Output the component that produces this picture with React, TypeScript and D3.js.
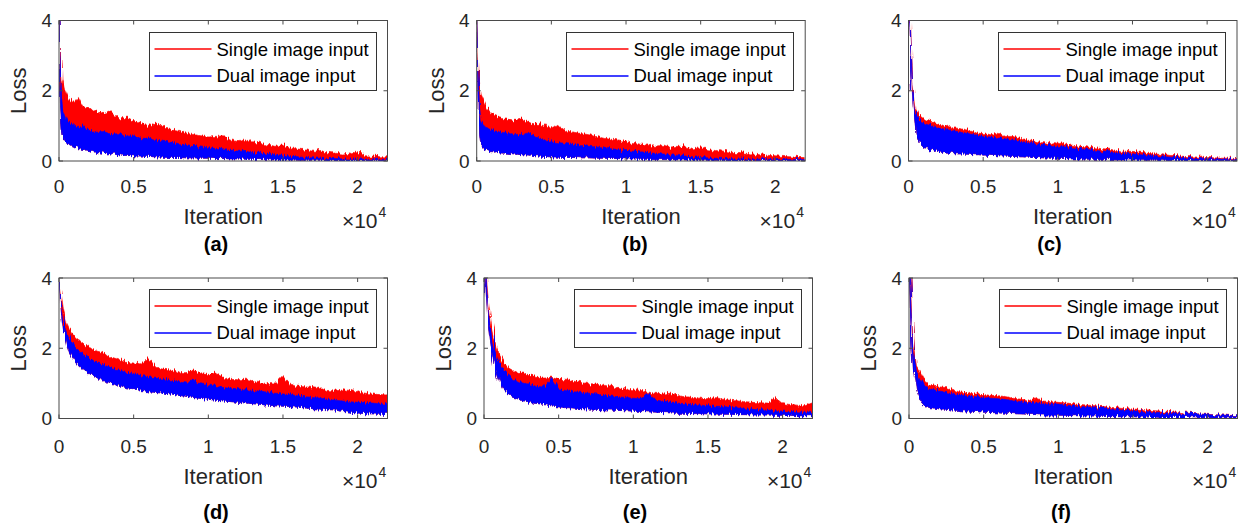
import React from 'react';
import * as d3 from 'd3';

const ITER = [0, 100, 200, 300, 500, 700, 1000, 1300, 1600,
  2000, 2500, 3000, 3500, 4000, 4500, 5000, 5500, 6000, 6500, 7000, 7500, 8000, 8500, 9000, 9500,
  10000, 10500, 11000, 11500, 12000, 12500, 13000, 13500, 14000, 14500, 15000, 15500, 16000, 16500,
  17000, 17500, 18000, 18500, 19000, 19500, 20000, 20500, 21000, 21500, 22000];

const X_TICKS = [0, 5000, 10000, 15000, 20000];
const Y_TICKS = [0, 2, 4];
const LEGEND = ['Single image input', 'Dual image input'];

// (a)
const A_RED_HI = [4.0, 3.2, 2.3, 2.1, 1.9, 1.75, 1.65, 1.8, 1.55,
  1.5, 1.42, 1.35, 1.4, 1.2, 1.25, 1.15, 1.1, 1.0, 1.05, 1.0, 0.88, 0.85, 0.8, 0.75, 0.72, 0.68, 0.7, 0.72, 0.6,
  0.55, 0.6, 0.55, 0.5, 0.45, 0.42, 0.46, 0.38, 0.34, 0.32, 0.28, 0.3, 0.25, 0.22, 0.2, 0.22, 0.27, 0.15, 0.14, 0.12, 0.12];
const A_BLUE_HI = [4.0, 2.6, 1.7, 1.4, 1.2, 1.1, 1.0, 0.95, 1.0,
  0.88, 0.82, 0.84, 0.76, 0.78, 0.7, 0.72, 0.64, 0.66, 0.6, 0.56, 0.54, 0.5, 0.46, 0.44, 0.4, 0.38, 0.36, 0.32, 0.31,
  0.28, 0.27, 0.24, 0.22, 0.2, 0.18, 0.17, 0.14, 0.12, 0.1, 0.09, 0.08, 0.07, 0.07, 0.06, 0.06, 0.06, 0.05, 0.05, 0.05, 0.05];
const A_BLUE_LO = [4.0, 1.6, 0.9, 0.6, 0.5, 0.45, 0.4, 0.35, 0.33,
  0.3, 0.25, 0.22, 0.2, 0.18, 0.16, 0.15, 0.14, 0.13, 0.12, 0.11, 0.1, 0.1, 0.09, 0.09, 0.08, 0.08, 0.07, 0.07, 0.06,
  0.06, 0.05, 0.05, 0.04, 0.04, 0.03, 0.03, 0.03, 0.02, 0.02, 0.02, 0.02, 0.01, 0.01, 0.01, 0.01, 0.01, 0.01, 0.01, 0.01, 0.01];

// (b)
const B_RED_HI = [4.0, 3.0, 2.2, 1.9, 1.7, 1.5, 1.35, 1.3, 1.25,
  1.2, 1.15, 1.2, 1.1, 1.05, 1.0, 0.95, 1.0, 0.85, 0.82, 0.78, 0.75, 0.7, 0.65, 0.62, 0.6, 0.55, 0.5, 0.48, 0.45,
  0.42, 0.45, 0.4, 0.42, 0.4, 0.35, 0.38, 0.32, 0.3, 0.28, 0.25, 0.24, 0.22, 0.2, 0.18, 0.16, 0.15, 0.13, 0.12, 0.1, 0.1];
const B_BLUE_HI = [4.0, 2.4, 1.5, 1.15, 1.0, 0.95, 0.9, 0.85, 0.82,
  0.8, 0.76, 0.75, 0.8, 0.68, 0.62, 0.55, 0.52, 0.5, 0.47, 0.44, 0.42, 0.4, 0.37, 0.35, 0.32, 0.3, 0.28, 0.26, 0.24,
  0.22, 0.2, 0.18, 0.16, 0.14, 0.12, 0.1, 0.09, 0.08, 0.07, 0.07, 0.06, 0.06, 0.05, 0.05, 0.05, 0.04, 0.04, 0.04, 0.04, 0.04];
const B_BLUE_LO = [4.0, 1.4, 0.7, 0.45, 0.35, 0.3, 0.27, 0.25, 0.23,
  0.22, 0.2, 0.18, 0.17, 0.15, 0.13, 0.12, 0.11, 0.1, 0.1, 0.09, 0.09, 0.08, 0.08, 0.07, 0.07, 0.06, 0.06, 0.05, 0.05,
  0.04, 0.04, 0.04, 0.03, 0.03, 0.03, 0.02, 0.02, 0.02, 0.02, 0.01, 0.01, 0.01, 0.01, 0.01, 0.01, 0.01, 0.01, 0.01, 0.01, 0.01];

// (c)
const C_RED_HI = [5.0, 4.3, 3.2, 2.2, 1.5, 1.3, 1.2, 1.15, 1.1,
  1.05, 1.0, 0.95, 0.92, 0.88, 0.8, 0.78, 0.75, 0.8, 0.7, 0.7, 0.65, 0.6, 0.56, 0.52, 0.5, 0.55, 0.48, 0.45, 0.42,
  0.4, 0.38, 0.35, 0.33, 0.3, 0.28, 0.27, 0.25, 0.22, 0.2, 0.18, 0.16, 0.15, 0.13, 0.12, 0.11, 0.1, 0.09, 0.08, 0.08, 0.07];
const C_BLUE_HI = [5.0, 4.1, 3.0, 2.0, 1.35, 1.15, 1.08, 1.03, 1.0,
  0.95, 0.9, 0.86, 0.82, 0.78, 0.74, 0.7, 0.68, 0.66, 0.63, 0.6, 0.56, 0.53, 0.5, 0.47, 0.45, 0.42, 0.4, 0.38, 0.36,
  0.33, 0.3, 0.28, 0.26, 0.24, 0.22, 0.2, 0.18, 0.16, 0.14, 0.12, 0.11, 0.1, 0.09, 0.08, 0.07, 0.06, 0.06, 0.05, 0.05, 0.05];
const C_BLUE_LO = [5.0, 3.8, 2.6, 1.6, 0.8, 0.55, 0.42, 0.35, 0.3,
  0.26, 0.23, 0.21, 0.2, 0.19, 0.18, 0.17, 0.16, 0.15, 0.14, 0.13, 0.12, 0.11, 0.1, 0.09, 0.08, 0.08, 0.07, 0.06, 0.06,
  0.05, 0.05, 0.04, 0.04, 0.03, 0.03, 0.03, 0.02, 0.02, 0.02, 0.02, 0.01, 0.01, 0.01, 0.01, 0.01, 0.01, 0.01, 0.01, 0.01, 0.01];

// (d)
const D_RED_HI = [4.0, 3.7, 3.4, 3.1, 2.75, 2.55, 2.35, 2.25, 2.15,
  2.05, 1.9, 1.85, 1.75, 1.68, 1.6, 1.58, 1.55, 1.72, 1.45, 1.4, 1.38, 1.32, 1.3, 1.38, 1.28, 1.25, 1.3, 1.18, 1.12,
  1.1, 1.12, 1.08, 1.02, 1.0, 0.98, 1.2, 0.95, 0.92, 0.9, 0.88, 0.85, 0.8, 0.78, 0.82, 0.8, 0.75, 0.72, 0.7, 0.68, 0.67];
const D_BLUE_HI = [4.0, 3.5, 3.1, 2.8, 2.45, 2.25, 2.05, 1.95, 1.85,
  1.72, 1.6, 1.52, 1.45, 1.38, 1.32, 1.28, 1.22, 1.2, 1.15, 1.12, 1.08, 1.05, 1.0, 1.1, 0.98, 0.95, 0.92, 0.88, 0.86,
  0.85, 0.82, 0.8, 0.78, 0.75, 0.72, 0.7, 0.68, 0.65, 0.62, 0.6, 0.58, 0.55, 0.52, 0.5, 0.48, 0.46, 0.45, 0.44, 0.42, 0.4];
const D_BLUE_LO = [4.0, 3.3, 2.8, 2.5, 2.1, 1.85, 1.65, 1.5, 1.4,
  1.3, 1.18, 1.08, 1.0, 0.93, 0.88, 0.85, 0.8, 0.76, 0.74, 0.72, 0.7, 0.66, 0.63, 0.6, 0.57, 0.55, 0.52, 0.5, 0.48,
  0.46, 0.44, 0.42, 0.4, 0.38, 0.36, 0.35, 0.34, 0.32, 0.3, 0.28, 0.27, 0.25, 0.24, 0.2, 0.18, 0.16, 0.14, 0.13, 0.12, 0.12];

// (e)
const E_RED_HI = [5.5, 4.6, 3.8, 3.3, 2.7, 2.3, 1.85, 1.6, 1.45,
  1.35, 1.3, 1.25, 1.2, 1.15, 1.18, 1.1, 1.12, 1.05, 1.02, 1.0, 0.98, 0.95, 0.92, 0.88, 0.85, 0.82, 0.8, 0.75, 0.72,
  0.7, 0.72, 0.65, 0.62, 0.6, 0.58, 0.56, 0.6, 0.55, 0.52, 0.5, 0.48, 0.46, 0.45, 0.44, 0.6, 0.42, 0.4, 0.38, 0.36, 0.45];
const E_BLUE_HI = [5.5, 4.4, 3.6, 3.0, 2.4, 2.0, 1.6, 1.4, 1.25,
  1.12, 1.02, 0.98, 0.92, 0.9, 1.15, 0.82, 0.8, 0.76, 0.74, 0.72, 0.7, 0.66, 0.64, 0.62, 0.6, 0.58, 0.56, 0.72, 0.52,
  0.5, 0.47, 0.44, 0.42, 0.4, 0.38, 0.36, 0.35, 0.34, 0.32, 0.3, 0.28, 0.26, 0.25, 0.24, 0.22, 0.21, 0.2, 0.19, 0.18, 0.18];
const E_BLUE_LO = [5.5, 4.0, 3.2, 2.6, 2.0, 1.5, 1.1, 0.85, 0.72,
  0.6, 0.52, 0.47, 0.43, 0.4, 0.36, 0.33, 0.31, 0.3, 0.28, 0.27, 0.26, 0.25, 0.24, 0.23, 0.22, 0.21, 0.2, 0.19, 0.18,
  0.17, 0.16, 0.15, 0.15, 0.14, 0.14, 0.13, 0.13, 0.12, 0.12, 0.11, 0.11, 0.1, 0.1, 0.1, 0.09, 0.09, 0.09, 0.08, 0.08, 0.08];

// (f)
const F_RED_HI = [4.8, 3.8, 2.7, 2.1, 1.5, 1.35, 1.1, 1.0, 0.95,
  0.9, 0.88, 0.8, 0.75, 0.72, 0.7, 0.68, 0.66, 0.65, 0.62, 0.58, 0.55, 0.5, 0.6, 0.5, 0.48, 0.46, 0.44, 0.42, 0.4,
  0.38, 0.36, 0.34, 0.32, 0.3, 0.28, 0.27, 0.26, 0.24, 0.22, 0.21, 0.2, 0.18, 0.16, 0.14, 0.13, 0.12, 0.11, 0.1, 0.09, 0.08];
const F_BLUE_HI = [4.6, 3.5, 2.4, 1.9, 1.35, 1.15, 0.95, 0.88, 0.82,
  0.78, 0.74, 0.7, 0.66, 0.63, 0.62, 0.6, 0.58, 0.56, 0.54, 0.5, 0.48, 0.46, 0.44, 0.43, 0.42, 0.41, 0.38, 0.36, 0.34,
  0.33, 0.32, 0.3, 0.28, 0.25, 0.23, 0.22, 0.2, 0.19, 0.18, 0.17, 0.16, 0.15, 0.14, 0.13, 0.12, 0.11, 0.1, 0.09, 0.08, 0.08];
const F_BLUE_LO = [4.4, 3.0, 1.9, 1.35, 0.8, 0.55, 0.38, 0.32, 0.3,
  0.28, 0.26, 0.24, 0.22, 0.21, 0.2, 0.18, 0.17, 0.16, 0.15, 0.14, 0.13, 0.12, 0.11, 0.1, 0.1, 0.09, 0.09, 0.08, 0.08,
  0.07, 0.07, 0.06, 0.06, 0.05, 0.05, 0.05, 0.04, 0.04, 0.04, 0.03, 0.03, 0.03, 0.03, 0.02, 0.02, 0.02, 0.02, 0.02, 0.02, 0.02];

const SERIES = {
  a: { redHi: A_RED_HI, blueHi: A_BLUE_HI, blueLo: A_BLUE_LO },
  b: { redHi: B_RED_HI, blueHi: B_BLUE_HI, blueLo: B_BLUE_LO },
  c: { redHi: C_RED_HI, blueHi: C_BLUE_HI, blueLo: C_BLUE_LO },
  d: { redHi: D_RED_HI, blueHi: D_BLUE_HI, blueLo: D_BLUE_LO },
  e: { redHi: E_RED_HI, blueHi: E_BLUE_HI, blueLo: E_BLUE_LO },
  f: { redHi: F_RED_HI, blueHi: F_BLUE_HI, blueLo: F_BLUE_LO },
};

const PANELS = [
  { key: 'a', left: 59, top: 20.5, capX: 216, loss: true, row: 0 },
  { key: 'b', left: 476.7, top: 20.5, capX: 635, loss: true, row: 0 },
  { key: 'c', left: 908.5, top: 20.5, capX: 1049.5, loss: false, row: 0 },
  { key: 'd', left: 59, top: 278, capX: 216, loss: true, row: 1 },
  { key: 'e', left: 484, top: 278, capX: 635, loss: true, row: 1 },
  { key: 'f', left: 909, top: 278, capX: 1061, loss: true, row: 1 },
];

const W = 328.5;
const H = 140.5;
const FONT = '"Liberation Sans", Arial, sans-serif';
const AX = '#262626';
const RED = '#ff0000';
const BLUE = '#0000ff';

type P = typeof PANELS[number];

function Panel({ p }: { p: P }) {
  const s = SERIES[p.key];
  const x = d3.scaleLinear().domain([0, 22000]).range([p.left, p.left + W]);
  const y = d3.scaleLinear().domain([0, 4]).range([p.top + H, p.top]);
  const pts = ITER.map((it, i) => ({ it, rh: s.redHi[i], bh: s.blueHi[i], bl: s.blueLo[i] }));
  const red = d3.area<any>().x(d => x(d.it)).y0(d => y(d.bl)).y1(d => y(d.rh));
  const blue = d3.area<any>().x(d => x(d.it)).y0(d => y(d.bl)).y1(d => y(d.bh));
  const right = p.left + W;
  const bottom = p.top + H;
  const sh = p.row === 1 ? 2 : 0;
  const lx = Math.round(right - 239) + 0.5;
  const ly = Math.round(p.top + 11) + 0.5;
  const clip = `clip-${p.key}`;
  return (
    <g>
      <defs>
        <clipPath id={clip}>
          <rect x={p.left} y={p.top} width={W} height={H} />
        </clipPath>
      </defs>
      <g clipPath={`url(#${clip})`}>
        <g filter="url(#fuzz)">
          <path d={red(pts) || ''} fill={RED} stroke={RED} strokeWidth={0.6} />
          <path d={blue(pts) || ''} fill={BLUE} stroke={BLUE} strokeWidth={0.6} />
        </g>
      </g>
      <rect x={p.left} y={p.top} width={W} height={H} fill="none" stroke="#4a4a4a" strokeWidth={1} />
      {X_TICKS.map(t => (
        <g key={'x' + t}>
          <line x1={x(t)} x2={x(t)} y1={bottom} y2={bottom - 4} stroke="#4a4a4a" />
          <line x1={x(t)} x2={x(t)} y1={p.top} y2={p.top + 4} stroke="#4a4a4a" />
          <text x={x(t)} y={bottom + 32 + sh} textAnchor="middle" fontSize={19} fill={AX} fontFamily={FONT}>
            {String(t / 10000)}
          </text>
        </g>
      ))}
      {Y_TICKS.map(t => (
        <g key={'y' + t}>
          <line x1={p.left} x2={p.left + 4} y1={y(t)} y2={y(t)} stroke="#4a4a4a" />
          <line x1={right} x2={right - 4} y1={y(t)} y2={y(t)} stroke="#4a4a4a" />
          <text x={p.left - 7} y={y(t)} dy="0.35em" textAnchor="end" fontSize={19} fill={AX} fontFamily={FONT}>
            {t}
          </text>
        </g>
      ))}
      {p.loss && (
        <text transform={`translate(${p.left - 33},${p.top + H / 2}) rotate(-90)`} textAnchor="middle"
          fontSize={22} fill={AX} fontFamily={FONT}>Loss</text>
      )}
      <text x={p.left + W / 2} y={bottom + 63 + sh} textAnchor="middle" fontSize={22} fill={AX} fontFamily={FONT}>
        Iteration
      </text>
      <text x={right - 10} y={bottom + 67 + sh} textAnchor="end" fontSize={21} fill={AX} fontFamily={FONT}>×10</text>
      <text x={right - 9} y={bottom + 56 + sh} fontSize={14} fill={AX} fontFamily={FONT}>4</text>
      <rect x={lx} y={ly} width={227} height={58} fill="#fff" stroke="#333" strokeWidth={1} />
      {LEGEND.map((l, i) => (
        <g key={l}>
          <line x1={lx + 5} x2={lx + 62} y1={ly + 16.5 + i * 27} y2={ly + 16.5 + i * 27}
            stroke={i === 0 ? RED : BLUE} strokeWidth={1.6} />
          <text x={lx + 67} y={ly + 23 + i * 26.5} fontSize={18.5} fill="#000" fontFamily={FONT}>{l}</text>
        </g>
      ))}
      <text x={p.capX} y={p.row === 0 ? 251 : 519} textAnchor="middle" fontSize={20} fontWeight="bold"
        fill="#000" fontFamily={FONT}>({p.key})</text>
    </g>
  );
}

export default function App() {
  return (
    <svg width={1242} height={525} style={{ position: 'absolute', left: 0, top: 0, background: '#fff' }}>
      <defs>
        {/* texture only: roughens the band edges so they read like a dense noisy trace */}
        <filter id="fuzz" x="-2%" y="-10%" width="104%" height="120%">
          <feTurbulence type="fractalNoise" baseFrequency="0.7 0.03" numOctaves={2} seed={3} result="n" />
          <feDisplacementMap in="SourceGraphic" in2="n" scale={7} xChannelSelector="R" yChannelSelector="G" />
        </filter>
      </defs>
      <rect width={1242} height={525} fill="#fff" />
      {PANELS.map(p => <Panel key={p.key} p={p} />)}
    </svg>
  );
}
